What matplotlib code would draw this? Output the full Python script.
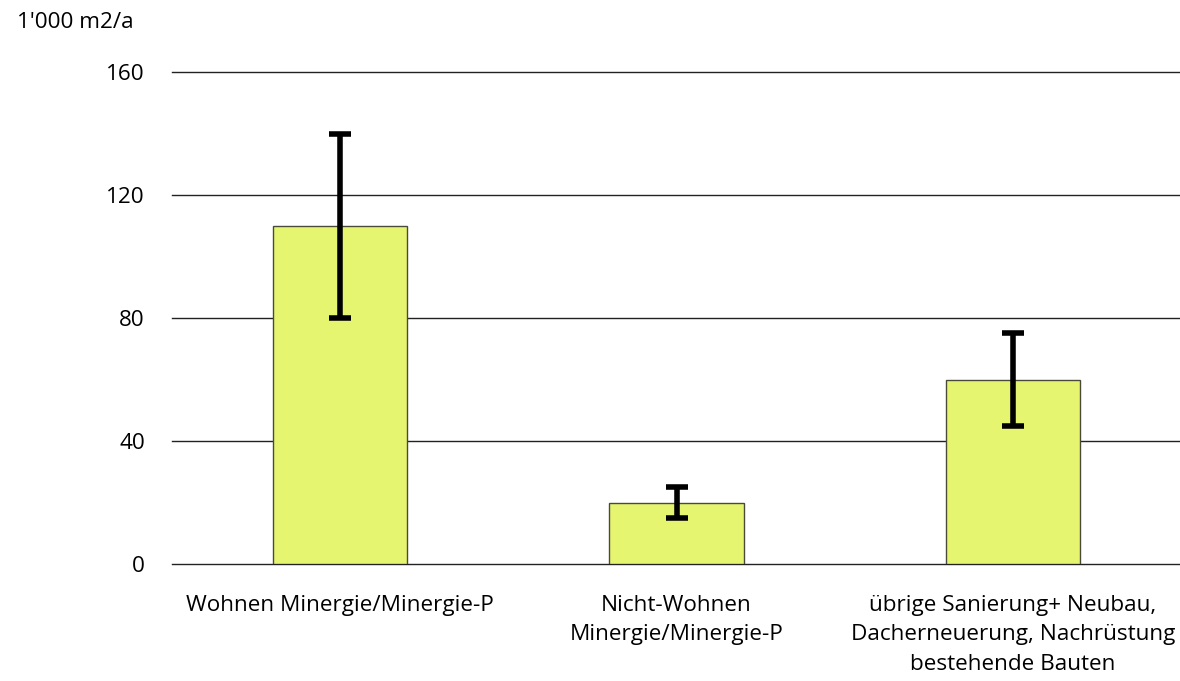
import matplotlib
matplotlib.use("Agg")
import matplotlib.pyplot as plt
import numpy as np

categories = ["Wohnen Minergie/Minergie-P",
              "Nicht-Wohnen\nMinergie/Minergie-P",
              "übrige Sanierung+ Neubau,\nDacherneuerung, Nachrüstung\nbestehende Bauten"]
values = [110, 20, 60]
err_low = [80, 15, 45]
err_high = [140, 25, 75]
yticks = [0, 40, 80, 120, 160]
ylabel = "1'000 m2/a"

plt.rcParams['font.family'] = ['Open Sans', 'DejaVu Sans']

fig = plt.figure(figsize=(11.8, 6.81), dpi=100)
ax = fig.add_axes([172/1180, 117/681, 1009/1180, 492/681])

x = np.arange(len(categories))
vals = np.array(values)
lo = vals - np.array(err_low)
hi = np.array(err_high) - vals

ax.set_axisbelow(True)
for t in yticks:
    ax.axhline(t, color='#222222', lw=1.0, zorder=0, clip_on=False)
ax.bar(x, vals, width=0.4, color='#e6f570', edgecolor='#4a4a3a', linewidth=1.0, zorder=2)
eb = ax.errorbar(x, vals, yerr=[lo, hi], fmt='none', ecolor='black', elinewidth=4,
                 capsize=8, capthick=4, zorder=3)
for c in eb[1]:
    c.set_solid_capstyle('round')
    c.set_dash_capstyle('round')
for lc in eb[2]:
    lc.set_capstyle('butt')

ax.set_xlim(-0.5, 2.5)
ax.set_ylim(0, 160)
ax.set_yticks(yticks)
ax.set_yticklabels([str(t) for t in yticks])
ax.set_xticks(x)
ax.set_xticklabels(categories, linespacing=1.54)
for s in ax.spines.values():
    s.set_visible(False)
ax.tick_params(axis='both', length=0, labelsize=16.2, colors='black')
ax.tick_params(axis='y', pad=19.5)
ax.tick_params(axis='x', pad=22)

fig.text(17/1180, 1 - 22/681, ylabel, fontsize=16.2, va='center', ha='left')

fig.savefig("out.png", dpi=100)
